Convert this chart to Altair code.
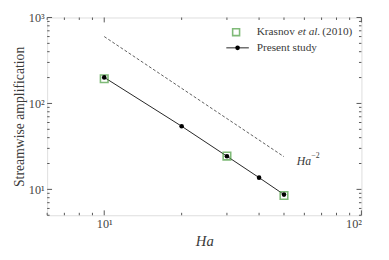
import altair as alt
import pandas as pd

# ---- data ----
ha_present = [10, 20, 30, 40, 50]
amp_present = [201, 54.3, 24.3, 13.7, 8.7]
ha_krasnov = [10, 30, 50]
amp_krasnov = [194, 24.4, 8.5]
ha_ref = [10, 50]
amp_ref = [600, 24]

x_major = [10, 100]
x_minor = [6, 7, 8, 9, 20, 30, 40, 50, 60, 70, 80, 90]
y_major = [10, 100, 1000]
y_minor = [5, 6, 7, 8, 9, 20, 30, 40, 50, 60, 70, 80, 90,
           200, 300, 400, 500, 600, 700, 800, 900]

W, H = 321, 202
FONT = "Liberation Serif"
AX = "#555555"
TXT = "#3a3a3a"

xs = alt.Scale(type="log", domain=[6, 100], nice=False)
ys = alt.Scale(type="log", domain=[5, 1000], nice=False)

pres = pd.DataFrame({"Ha": ha_present, "amp": amp_present})
kras = pd.DataFrame({"Ha": ha_krasnov, "amp": amp_krasnov})
ref = pd.DataFrame({"Ha": ha_ref, "amp": amp_ref})

base = alt.Chart(pres).encode(
    x=alt.X("Ha:Q", scale=xs,
            axis=alt.Axis(values=x_major, title="Ha", titleFont=FONT, titleFontStyle="italic",
                          titleFontSize=15, titleFontWeight="normal", titleColor=TXT,
                          titlePadding=3, labelFont=FONT, labelFontSize=12.5, labelColor="#444",
                          labelPadding=3, ticks=False, domain=False, grid=False,
                          labelExpr="datum.value == 10 ? '10¹' : '10²'")),
    y=alt.Y("amp:Q", scale=ys,
            axis=alt.Axis(values=y_major, title="Streamwise amplification", titleFont=FONT,
                          titleFontSize=14, titleFontWeight="normal", titleColor=TXT,
                          titlePadding=2, labelFont=FONT, labelFontSize=12.5, labelColor="#444",
                          labelPadding=3, ticks=False, domain=False, grid=False,
                          labelExpr="datum.value == 10 ? '10¹' : (datum.value == 100 ? '10²' : '10³')")),
)

line = base.mark_line(color="#222", strokeWidth=1)
pts = base.mark_circle(color="black", size=22, opacity=1)
sq = alt.Chart(kras).mark_point(shape="square", filled=False, color="#4a9e3f", size=60,
                                strokeWidth=1.6).encode(
    x=alt.X("Ha:Q", scale=xs), y=alt.Y("amp:Q", scale=ys))
refl = alt.Chart(ref).mark_line(color="#333", strokeWidth=0.8, strokeDash=[3, 2]).encode(
    x=alt.X("Ha:Q", scale=xs), y=alt.Y("amp:Q", scale=ys))

ann = pd.DataFrame({"Ha": [56], "amp": [21.5]})
ann_ha = alt.Chart(ann).mark_text(text="Ha", font=FONT, fontStyle="italic", fontSize=12,
                                  align="left", baseline="middle", color=TXT).encode(
    x=alt.X("Ha:Q", scale=xs), y=alt.Y("amp:Q", scale=ys))
ann_exp = alt.Chart(ann).mark_text(text="−2", font=FONT, fontSize=8, align="left",
                                   baseline="middle", dx=15, dy=-5, color=TXT).encode(
    x=alt.X("Ha:Q", scale=xs), y=alt.Y("amp:Q", scale=ys))

# inward ticks
def xticks(vals, length, top):
    d = pd.DataFrame({"Ha": vals})
    if top:
        return alt.Chart(d).mark_rule(color=AX, strokeWidth=1).encode(
            x=alt.X("Ha:Q", scale=xs), y=alt.value(0), y2=alt.value(length))
    return alt.Chart(d).mark_rule(color=AX, strokeWidth=1).encode(
        x=alt.X("Ha:Q", scale=xs), y=alt.value(H), y2=alt.value(H - length))

def yticks(vals, length, right):
    d = pd.DataFrame({"amp": vals})
    if right:
        return alt.Chart(d).mark_rule(color=AX, strokeWidth=1).encode(
            y=alt.Y("amp:Q", scale=ys), x=alt.value(W), x2=alt.value(W - length))
    return alt.Chart(d).mark_rule(color=AX, strokeWidth=1).encode(
        y=alt.Y("amp:Q", scale=ys), x=alt.value(0), x2=alt.value(length))

ticks = [xticks(x_major, 5, False), xticks(x_minor, 2.5, False),
         xticks(x_major, 5, True), xticks(x_minor, 2.5, True),
         yticks(y_major, 5, False), yticks(y_minor, 2.5, False),
         yticks(y_major, 5, True), yticks(y_minor, 2.5, True)]

# legend
leg = pd.DataFrame({"k": [0]})
lsq = alt.Chart(leg).mark_point(shape="square", filled=False, color="#4a9e3f", size=50,
                                strokeWidth=1.6).encode(x=alt.value(193), y=alt.value(15))
lline = alt.Chart(leg).mark_rule(color="#222", strokeWidth=1).encode(
    x=alt.value(183), x2=alt.value(206), y=alt.value(31))
ldot = alt.Chart(leg).mark_circle(color="black", size=22, opacity=1).encode(
    x=alt.value(194.5), y=alt.value(31))
def ltxt(t, x, y, style="normal"):
    return alt.Chart(leg).mark_text(text=t, font=FONT, fontSize=11.5, fontStyle=style,
                                    align="left", baseline="middle", color=TXT).encode(
        x=alt.value(x), y=alt.value(y))
legend = [lsq, lline, ldot,
          ltxt("Krasnov", 214, 15), ltxt("et al.", 256, 15, "italic"), ltxt("(2010)", 281, 15),
          ltxt("Present study", 214, 31)]

chart = alt.layer(refl, line, sq, pts, ann_ha, ann_exp, *ticks, *legend).properties(
    width=W, height=H,
    autosize=alt.AutoSizeParams(type="none"),
    padding={"left": 40, "top": 7, "right": 20, "bottom": 43},
).configure_view(stroke=AX, strokeWidth=1.5).configure(
    background="white", font=FONT
).configure_text(font=FONT)

chart.save("out.html", embed_options={"renderer": "svg", "actions": False})
